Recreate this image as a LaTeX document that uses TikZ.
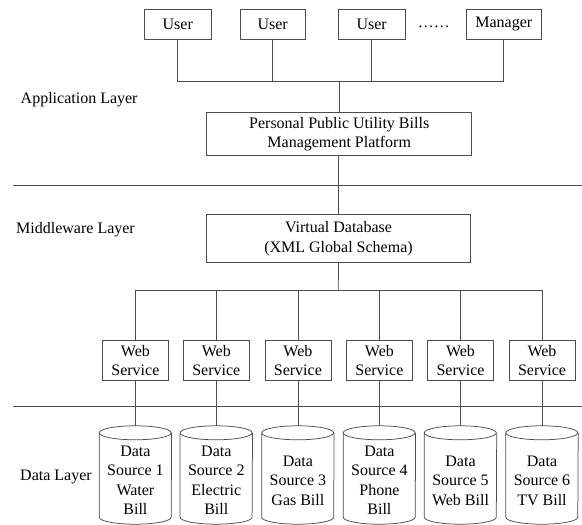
\documentclass[tikz,border=0pt]{standalone}
\usepackage{fontspec}
\setmainfont{Liberation Serif}
\begin{document}
\begin{tikzpicture}[x=1pt,y=-1pt,
  line/.style={draw=black!70,line width=0.75pt},
  txt/.style={inner sep=0pt,align=center,font=\fontsize{16}{19.5}\selectfont},
  box/.style={line,txt,rectangle},
  lbl/.style={txt,anchor=west},
  wsbox/.style={box,minimum width=66pt,minimum height=39.6pt},
  body/.style={rectangle,inner sep=0pt,minimum width=72pt,minimum height=98pt}]
\useasboundingbox (0,0) rectangle (582,525);
% top layer
\node[box,minimum width=67pt,minimum height=30pt] (u1) at (177.8,24.3) {User};
\node[box,minimum width=65.3pt,minimum height=30pt] (u2) at (272.7,24.3) {User};
\node[box,minimum width=66.7pt,minimum height=30pt] (u3) at (371.7,24.3) {User};
\node[box,minimum width=74.3pt,minimum height=30pt] (mgr) at (503.8,24.3) {Manager};
\node[txt,anchor=base] (dots) at (433.8,27) {……};
\coordinate (b1) at (339.3,81.7);
\node[box,minimum width=265pt,minimum height=43.4pt] (pm) at (339.2,134) {Personal Public Utility Bills\\Management Platform};
\node[box,minimum width=263.6pt,minimum height=48pt] (vd) at (338.5,238.7) {Virtual Database\\(XML Global Schema)};
\coordinate (b2) at (338.3,290.3);
% labels
\node[lbl] (la) at (20.5,99.5) {Application Layer};
\node[lbl] (lm) at (16,229.3) {Middleware Layer};
\node[lbl] (ld) at (20,476.7) {Data Layer};
% separators
\coordinate (s1l) at (13,185);
\coordinate (s1r) at (581.7,185);
\coordinate (s2l) at (13,406.7);
\coordinate (s2r) at (581.7,406.7);
\draw[line] (s1l) -- (s1r);
\draw[line] (s2l) -- (s2r);
% connectors top
\draw[line] (u1.south) -- (u1.south |- b1) -- (mgr.south |- b1) -- (mgr.south);
\draw[line] (u2.south) -- (u2.south |- b1);
\draw[line] (u3.south) -- (u3.south |- b1);
\draw[line] (b1) -- (b1 |- pm.north);
\draw[line] (vd.north) -- (vd.north |- pm.south);
\draw[line] (vd.south) -- (b2);
% web services and data sources
\foreach \i/\x/\t in {1/135.4/{Data\\Source 1\\Water\\Bill},
                      2/216.3/{Data\\Source 2\\Electric\\Bill},
                      3/297.9/{Data\\Source 3\\Gas Bill},
                      4/379.4/{Data\\Source 4\\Phone\\Bill},
                      5/460.5/{Data\\Source 5\\Web Bill},
                      6/542/{Data\\Source 6\\TV Bill}}{
  \node[wsbox] (ws\i) at (\x,360.5) {Web\\Service};
  \node[body] (d\i) at (\x,475) {};
  \node[txt] (t\i) at (\x,480.5) {\t};
  \draw[line] ([yshift=-7pt]d\i.north west) arc[start angle=180,end angle=-180,x radius=36pt,y radius=7pt];
  \draw[line] ([yshift=-7pt]d\i.north west) -- ([yshift=7pt]d\i.south west)
     arc[start angle=180,end angle=360,x radius=36pt,y radius=7pt] -- ([yshift=-7pt]d\i.north east);
  \draw[line] (ws\i.south) -- (d\i.north);
  \draw[line] (ws\i.north) -- (ws\i.north |- b2);
}
\draw[line] (ws1.north |- b2) -- (ws6.north |- b2);
\end{tikzpicture}
\end{document}
